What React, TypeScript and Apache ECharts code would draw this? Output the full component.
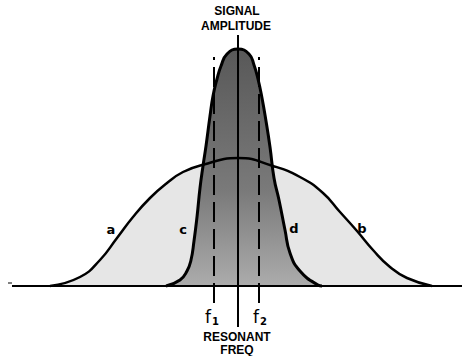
import React, { useEffect, useRef } from "react";
import * as echarts from "echarts";

// Frequency (horizontal units) vs signal amplitude (vertical units), baseline = 0
const wideCurve: [number, number][] = [
  [50, 0], [80, 9], [100, 26], [117, 48], [133, 69], [150, 88],
  [167, 103], [183, 114], [202, 121], [238, 128],
  [273, 120], [300, 109], [323, 93], [340, 74], [357, 55], [373, 36],
  [390, 19], [407, 8], [432, 0],
];

const narrowCurve: [number, number][] = [
  [166, 0], [180, 6], [187, 15], [191, 26], [194, 45], [197, 69],
  [200, 98], [203, 120], [206, 140], [210, 170], [213, 190],
  [217, 207], [221, 220], [227, 232], [238, 237], [249, 232],
  [254, 221], [258, 207], [262, 188], [266, 165], [270, 139],
  [274, 108], [279, 86], [285, 56],
  [290, 33], [300, 15], [318, 1], [322, 0],
];

const resonantFreq = 238;
const f1Freq = 214;
const f2Freq = 259;
const resonantLine: [number, number][] = [[resonantFreq, -41], [resonantFreq, 251]];
const f1Line: [number, number][] = [[f1Freq, -17], [f1Freq, 229]];
const f2Line: [number, number][] = [[f2Freq, -17], [f2Freq, 229]];
const baseLine: [number, number][] = [[12, 0], [462, 0]];

const topLabels = ["SIGNAL", "AMPLITUDE"];
const bottomLabels = ["RESONANT", "FREQ"];
const curveLetters = ["a", "b", "c", "d"];

export default function App() {
  const ref = useRef<HTMLDivElement>(null);
  useEffect(() => {
    if (!ref.current) return;
    const chart = echarts.init(ref.current, null, { renderer: "svg" });
    const capFont = {
      fontFamily: "Liberation Sans",
      fontWeight: "bold" as const,
      fontSize: 12,
      fill: "#000",
      align: "center" as const,
      verticalAlign: "middle" as const,
    };
    const letterFont = {
      fontFamily: "DejaVu Sans",
      fontWeight: "bold" as const,
      fontSize: 13,
      fill: "#000",
      align: "center" as const,
      verticalAlign: "middle" as const,
    };
    const subRich = {
      f: { fontFamily: "DejaVu Sans", fontSize: 17, fill: "#000" },
      s: { fontFamily: "DejaVu Sans", fontWeight: "bold", fontSize: 10, fill: "#000", padding: [8, 0, 0, 1] },
    };
    const smoothCurve = 0.5;
    chart.setOption({
      animation: false,
      grid: { left: 0, right: 0, top: 0, bottom: 0 },
      xAxis: { type: "value", min: 0, max: 462, show: false },
      yAxis: { type: "value", min: -70, max: 286, show: false },
      series: [
        {
          type: "line",
          data: wideCurve,
          symbol: "none",
          smooth: smoothCurve,
          lineStyle: { width: 0 },
          areaStyle: { color: "#e6e6e6", opacity: 1 },
          z: 1,
          silent: true,
        },
        {
          type: "line",
          data: narrowCurve,
          symbol: "none",
          smooth: smoothCurve,
          lineStyle: { width: 0 },
          areaStyle: {
            opacity: 1,
            color: new echarts.graphic.LinearGradient(0, 0, 0, 1, [
              { offset: 0, color: "#585858" },
              { offset: 0.6, color: "#7a7a7a" },
              { offset: 1, color: "#acacac" },
            ]),
          },
          z: 2,
          silent: true,
        },
        {
          type: "line",
          data: baseLine,
          symbol: "none",
          lineStyle: { color: "#000", width: 2 },
          z: 3,
        },
        {
          type: "line",
          data: wideCurve,
          symbol: "none",
          smooth: smoothCurve,
          lineStyle: { color: "#000", width: 2.5 },
          z: 4,
        },
        {
          type: "line",
          data: narrowCurve,
          symbol: "none",
          smooth: smoothCurve,
          lineStyle: { color: "#000", width: 3 },
          z: 4,
        },
        {
          type: "line",
          data: resonantLine,
          symbol: "none",
          lineStyle: { color: "#000", width: 2 },
          z: 5,
        },
        {
          type: "line",
          data: f1Line,
          symbol: "none",
          lineStyle: { color: "#000", width: 2, type: [20, 7] },
          z: 5,
        },
        {
          type: "line",
          data: f2Line,
          symbol: "none",
          lineStyle: { color: "#000", width: 2, type: [20, 7] },
          z: 5,
        },
      ],
      graphic: [
        { type: "text", z: 100, x: 237, y: 11, style: { ...capFont, text: topLabels[0] } },
        { type: "text", z: 100, x: 236, y: 26, style: { ...capFont, text: topLabels[1] } },
        { type: "text", z: 100, x: 237, y: 337, style: { ...capFont, text: bottomLabels[0] } },
        { type: "text", z: 100, x: 237, y: 350, style: { ...capFont, text: bottomLabels[1] } },
        { type: "text", z: 100, x: 111, y: 229, style: { ...letterFont, text: curveLetters[0] } },
        { type: "text", z: 100, x: 362, y: 228, style: { ...letterFont, text: curveLetters[1] } },
        { type: "text", z: 100, x: 183, y: 229, style: { ...letterFont, text: curveLetters[2] } },
        { type: "text", z: 100, x: 294, y: 228, style: { ...letterFont, text: curveLetters[3] } },
        {
          type: "text",
          z: 100,
          x: 212,
          y: 317,
          style: { text: "{f|f}{s|1}", rich: subRich, align: "center", verticalAlign: "middle" },
        },
        {
          type: "text",
          z: 100,
          x: 260,
          y: 317,
          style: { text: "{f|f}{s|2}", rich: subRich, align: "center", verticalAlign: "middle" },
        },
        { type: "line", z: 100, shape: { x1: 8, y1: 283, x2: 12, y2: 283 }, style: { stroke: "#000", lineWidth: 1 } },
      ],
    });
    return () => chart.dispose();
  }, []);
  return (
    <div
      ref={ref}
      style={{ position: "absolute", left: 0, top: 0, width: 462, height: 356, background: "#fff" }}
    />
  );
}
